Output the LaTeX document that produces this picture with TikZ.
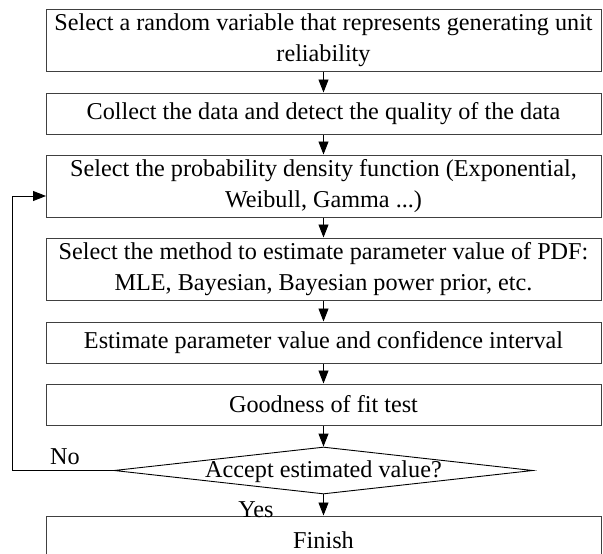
\documentclass[tikz,border=0pt]{standalone}
\usepackage{fontspec}
\setmainfont{Liberation Serif}
\usetikzlibrary{arrows.meta,shapes.geometric}
\begin{document}
\begin{tikzpicture}[x=1pt,y=-1pt,
  every node/.style={font=\fontsize{24.2}{31}\selectfont},
  stepbox/.style={draw=black!75,line width=1pt,rectangle,minimum width=555pt,inner sep=0pt,align=center,anchor=center},
  decbox/.style={draw=black,line width=0.9pt,diamond,minimum width=419pt,minimum height=47pt,inner sep=0pt},
  flow/.style={draw=black,line width=0.9pt,-{Triangle[length=13pt,width=10pt]}},
  lbl/.style={inner sep=0pt}]
\useasboundingbox (0,0) rectangle (603,554);
\node[stepbox,minimum height=62pt] (b1) at (323.5,40) {Select a random variable that represents generating unit\\reliability};
\node[stepbox,minimum height=41pt] (b2) at (323.5,113.5) {Collect the data and detect the quality of the data};
\node[stepbox,minimum height=62pt] (b3) at (323.5,186) {Select the probability density function (Exponential,\\Weibull, Gamma ...)};
\node[stepbox,minimum height=62pt] (b4) at (323.5,269) {Select the method to estimate parameter value of PDF:\\MLE, Bayesian, Bayesian power prior, etc.};
\node[stepbox,minimum height=41pt] (b5) at (323.5,342.5) {Estimate parameter value and confidence interval};
\node[stepbox,minimum height=41pt] (b6) at (323.5,404.5) {Goodness of fit test};
\node[decbox] (d) at (323.5,470.5) {};
\node[lbl] (dt) at (323.5,472) {Accept estimated value?};
\node[stepbox,minimum height=48pt] (fin) at (323.5,540) {Finish};
\node[lbl] (no) at (65,457) {No};
\node[lbl] (yes) at (256,510) {Yes};
\coordinate (lc) at (12,470.5);
\coordinate (lt) at (12,196);
\coordinate (la) at (46,196);
\draw[flow] (b1.south) -- (b2.north);
\draw[flow] (b2.south) -- (b3.north);
\draw[flow] (b3.south) -- (b4.north);
\draw[flow] (b4.south) -- (b5.north);
\draw[flow] (b5.south) -- (b6.north);
\draw[flow] (b6.south) -- (d.north);
\draw[flow] (d.south) -- (fin.north);
\draw[flow] (d.west) -- (lc) -- (lt) -- (la);
\end{tikzpicture}
\end{document}
